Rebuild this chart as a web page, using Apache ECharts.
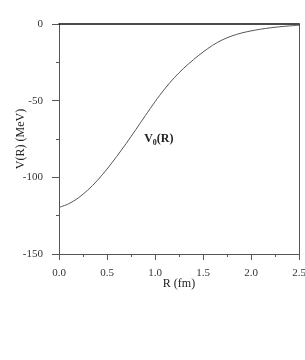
<!DOCTYPE html>
<html><head><meta charset="utf-8">
<script src="https://cdn.jsdelivr.net/npm/echarts@6/dist/echarts.min.js"></script>
<style>html,body{margin:0;padding:0;background:#fff}#c{width:305px;height:360px}</style>
</head><body><div id="c"></div>
<script>
const rValues = [0, 0.1, 0.2, 0.3, 0.4, 0.5, 0.6, 0.7, 0.8, 0.9, 1.0, 1.1, 1.2, 1.3, 1.4, 1.5, 1.6, 1.7, 1.8, 1.9, 2.0, 2.1, 2.2, 2.3, 2.4, 2.5];
const vValues = [-119.6, -117.3, -113.5, -108.3, -102.0, -94.6, -86.5, -77.9, -68.9, -59.7, -50.7, -42.4, -35.1, -28.8, -23.3, -18.3, -13.9, -10.4, -7.8, -5.9, -4.5, -3.4, -2.5, -1.8, -1.25, -0.8];
const xTicks = ['0.0', '0.5', '1.0', '1.5', '2.0', '2.5'];
const yTicks = [0, -50, -100, -150];
const labelAt = [1.04, -75];

const font = 'Liberation Serif';
const gray = '#555';
const chart = echarts.init(document.getElementById('c'));
chart.setOption({
  animation: false,
  grid: {left: 59, right: 6, top: 24, bottom: 106, containLabel: false, outerBoundsMode: 'none'},
  xAxis: [{
    type: 'value', min: 0, max: 2.5, interval: 0.5,
    name: 'R (fm)', nameLocation: 'middle', nameGap: 24, nameMoveOverlap: false,
    nameTextStyle: {fontFamily: font, fontSize: 12, color: '#222'},
    axisLine: {show: true, onZero: false, lineStyle: {color: gray, width: 1}},
    axisTick: {show: true, length: 6, lineStyle: {color: gray}},
    minorTick: {show: true, splitNumber: 2, length: 3, lineStyle: {color: gray}},
    splitLine: {show: false},
    axisLabel: {margin: 14, fontFamily: font, fontSize: 11, color: '#333',
      formatter: v => xTicks[Math.round(v / 0.5)]}
  }, {
    type: 'value', min: 0, max: 2.5, position: 'top',
    axisLine: {show: true, onZero: false, lineStyle: {color: '#111', width: 1.5}},
    axisTick: {show: false}, axisLabel: {show: false}, splitLine: {show: false}
  }],
  yAxis: [{
    type: 'value', min: -150, max: 0, interval: 50,
    name: 'V(R) (MeV)', nameLocation: 'middle', nameGap: 32, nameRotate: 90, nameMoveOverlap: false,
    nameTextStyle: {fontFamily: font, fontSize: 12, color: '#222'},
    axisLine: {show: true, onZero: false, lineStyle: {color: gray, width: 1}},
    axisTick: {show: true, length: 7, lineStyle: {color: gray}},
    minorTick: {show: true, splitNumber: 2, length: 3, lineStyle: {color: gray}},
    splitLine: {show: false},
    axisLabel: {margin: 16, fontFamily: font, fontSize: 11, color: '#333',
      formatter: v => yTicks.includes(v) ? String(v) : ''}
  }, {
    type: 'value', min: -150, max: 0, position: 'right',
    axisLine: {show: true, onZero: false, lineStyle: {color: gray, width: 1}},
    axisTick: {show: false}, axisLabel: {show: false}, splitLine: {show: false}
  }],
  series: [{
    type: 'line', xAxisIndex: 0, yAxisIndex: 0,
    data: rValues.map((r, i) => [r, vValues[i]]),
    smooth: 0.3, showSymbol: false,
    lineStyle: {color: '#555', width: 1},
    markPoint: {
      symbol: 'circle', symbolSize: 0,
      data: [{coord: labelAt, value: ''}],
      label: {show: true, position: 'inside',
        formatter: '{b|V}{s|0}{b|(R)}',
        rich: {
          b: {fontFamily: font, fontSize: 12, fontWeight: 'bold', color: '#222'},
          s: {fontFamily: font, fontSize: 8, fontWeight: 'bold', color: '#222', verticalAlign: 'bottom', padding: [7, 0, 0, 0]}
        }}
    }
  }]
});
</script></body></html>
